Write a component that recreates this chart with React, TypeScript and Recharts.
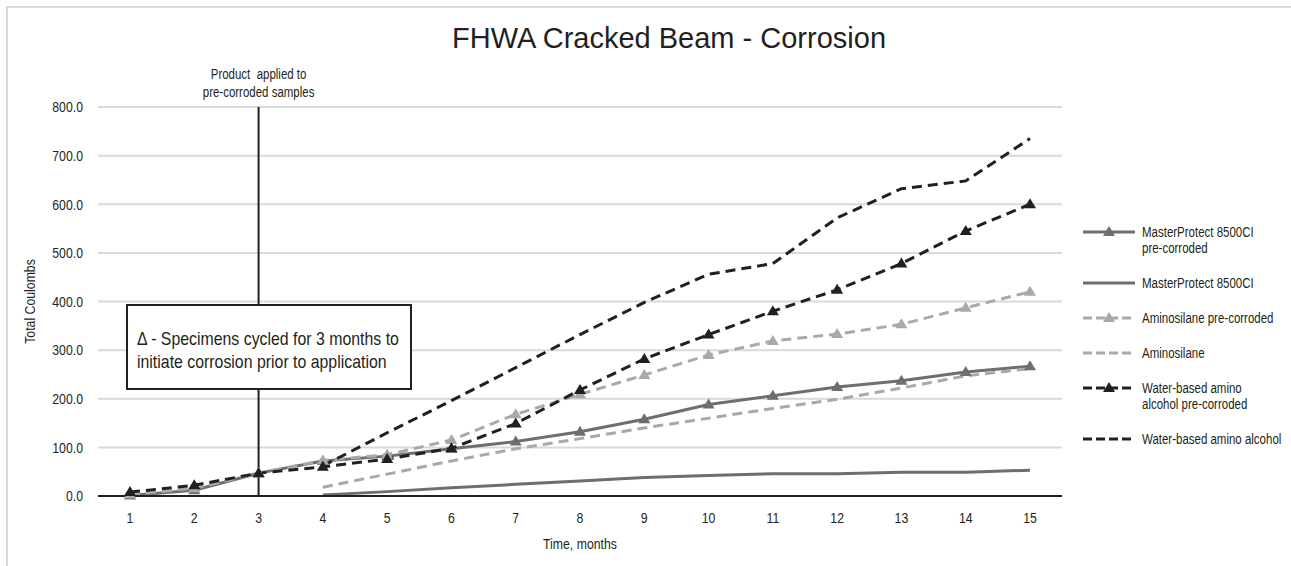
import React from 'react';
import { LineChart, Line, XAxis, YAxis, CartesianGrid, ReferenceLine, Legend } from 'recharts';

// months on the x axis
const months = [1, 2, 3, 4, 5, 6, 7, 8, 9, 10, 11, 12, 13, 14, 15];

// total coulombs per series (null = not measured yet)
const mp8500Pre = [1, 12, 47, 72, 82, 97, 112, 132, 158, 188, 206, 224, 237, 255, 267];
const mp8500 = [null, null, null, 2, 9, 17, 24, 31, 38, 42, 46, 46, 49, 49, 53];
const aminoPre = [3, 16, 47, 73, 85, 115, 168, 209, 249, 290, 319, 333, 353, 387, 420];
const amino = [null, null, null, 18, 45, 72, 97, 118, 140, 160, 180, 199, 222, 247, 262];
const waterPre = [8, 22, 47, 60, 76, 98, 149, 218, 282, 332, 380, 424, 478, 545, 600];
const water = [null, null, null, 62, 130, 196, 264, 332, 398, 456, 478, 572, 632, 648, 735];

const yTicks = [0, 100, 200, 300, 400, 500, 600, 700, 800];

// no condensed font installed, so squeeze a regular sans horizontally
const SANS = '"Liberation Sans", Arial, sans-serif';
const SQUEEZE = 0.82;
const INK = '#231f20';
const DARK_GRAY = '#6d6e71';
const LIGHT_GRAY = '#a7a9ac';

const data = months.map((m, i) => ({
  month: m,
  mp8500Pre: mp8500Pre[i],
  mp8500: mp8500[i],
  aminoPre: aminoPre[i],
  amino: amino[i],
  waterPre: waterPre[i],
  water: water[i],
}));

const series = [
  { key: 'mp8500Pre', name: 'MasterProtect 8500CI pre-corroded', lines: ['MasterProtect 8500CI', 'pre-corroded'], color: DARK_GRAY, dash: undefined, marker: true },
  { key: 'mp8500', name: 'MasterProtect 8500CI', lines: ['MasterProtect 8500CI'], color: DARK_GRAY, dash: undefined, marker: false },
  { key: 'aminoPre', name: 'Aminosilane pre-corroded', lines: ['Aminosilane pre-corroded'], color: LIGHT_GRAY, dash: '10 6', marker: true },
  { key: 'amino', name: 'Aminosilane', lines: ['Aminosilane'], color: LIGHT_GRAY, dash: '10 6', marker: false },
  { key: 'waterPre', name: 'Water-based amino alcohol pre-corroded', lines: ['Water-based amino', 'alcohol pre-corroded'], color: INK, dash: '10 6', marker: true },
  { key: 'water', name: 'Water-based amino alcohol', lines: ['Water-based amino alcohol'], color: INK, dash: '10 6', marker: false },
];

const triangle = (color: string) => (props: any) => {
  const { cx, cy, index } = props;
  if (cx == null || cy == null || props.value == null) return <g key={index} />;
  return <path key={index} d={`M${cx},${cy - 6}L${cx + 6},${cy + 4}L${cx - 6},${cy + 4}Z`} fill={color} />;
};

const NarrowText = ({ x, y, anchor, dy, size = 15, children, rotate = 0 }: any) => (
  <g transform={`translate(${x},${y}) rotate(${rotate}) scale(${SQUEEZE},1)`}>
    <text x={0} y={0} dy={dy} textAnchor={anchor} fill={INK} fontFamily={SANS} fontSize={size} style={{ whiteSpace: 'pre' }}>
      {children}
    </text>
  </g>
);

const XTick = (props: any) => (
  <NarrowText x={props.x} y={props.y} anchor="middle" dy="0.71em">
    {props.payload.value}
  </NarrowText>
);

const YTick = (props: any) => (
  <NarrowText x={props.x} y={props.y} anchor="end" dy="0.355em">
    {Number(props.payload.value).toFixed(1)}
  </NarrowText>
);

const xLabel = (props: any) => {
  const vb = props.viewBox;
  return (
    <NarrowText x={vb.x + vb.width / 2} y={549} anchor="middle">
      Time, months
    </NarrowText>
  );
};

const yLabel = (props: any) => {
  const vb = props.viewBox;
  return (
    <NarrowText x={35} y={vb.y + vb.height / 2} anchor="middle" rotate={-90}>
      Total Coulombs
    </NarrowText>
  );
};

const appliedLabel = (props: any) => {
  const x = props.viewBox.x;
  return (
    <g>
      <NarrowText x={x} y={79} anchor="middle" size={14}>Product  applied to</NarrowText>
      <NarrowText x={x} y={97} anchor="middle" size={14}>pre-corroded samples</NarrowText>
    </g>
  );
};

const squeezed: React.CSSProperties = {
  display: 'inline-block',
  transform: `scaleX(${SQUEEZE})`,
  transformOrigin: 'left center',
  whiteSpace: 'pre',
};

const renderLegend = () => (
  <div style={{ fontFamily: SANS, fontSize: 14, color: INK }}>
    {series.map((s) => (
      <div key={s.key} style={{ display: 'flex', alignItems: 'flex-start', marginBottom: 19 }}>
        <svg width={54} height={16} style={{ flex: 'none' }}>
          <line x1={1} y1={8} x2={53} y2={8} stroke={s.color} strokeWidth={3} strokeDasharray={s.dash ? '9 4' : undefined} />
          {s.marker && <path d="M27,2L33,12L21,12Z" fill={s.color} />}
        </svg>
        <div style={{ marginLeft: 6, lineHeight: '16px' }}>
          {s.lines.map((l) => (
            <div key={l}>
              <span style={squeezed}>{l}</span>
            </div>
          ))}
        </div>
      </div>
    ))}
  </div>
);

export default function App() {
  return (
    <div style={{ position: 'absolute', left: 0, top: 0, width: 1291, height: 566, overflow: 'hidden', background: '#fff' }}>
      <div style={{ position: 'absolute', left: 6, top: 6, width: 1400, height: 700, borderTop: '2px solid #d9d9d9', borderLeft: '2px solid #d9d9d9' }} />
      <div style={{ position: 'absolute', left: 0, top: 22, width: 1338, textAlign: 'center', fontFamily: SANS, fontSize: 29, color: INK }}>
        FHWA Cracked Beam - Corrosion
      </div>
      <div style={{ position: 'absolute', left: 0, top: 0 }}>
        <LineChart width={1291} height={566} data={data} margin={{ top: 107, right: 229, bottom: 40, left: 0 }}>
          <CartesianGrid vertical={false} stroke="#d9d9d9" strokeWidth={2} />
          <XAxis
            dataKey="month"
            height={30}
            padding={{ left: 32, right: 32 }}
            axisLine={{ stroke: INK, strokeWidth: 2 }}
            tickLine={false}
            tickSize={0}
            tickMargin={16}
            tick={XTick}
            label={xLabel}
          />
          <YAxis
            width={98}
            domain={[0, 800]}
            ticks={yTicks}
            axisLine={false}
            tickLine={false}
            tickSize={0}
            tickMargin={15}
            tick={YTick}
            label={yLabel}
          />
          <ReferenceLine x={3} stroke={INK} strokeWidth={2} label={appliedLabel} />
          {series.map((s) => (
            <Line
              key={s.key}
              dataKey={s.key}
              name={s.name}
              type="linear"
              stroke={s.color}
              strokeWidth={3}
              strokeDasharray={s.dash}
              dot={s.marker ? triangle(s.color) : false}
              activeDot={false}
              connectNulls={false}
              isAnimationActive={false}
            />
          ))}
          <Legend
            layout="horizontal"
            verticalAlign="middle"
            align="center"
            content={renderLegend}
            wrapperStyle={{ left: 1082, top: 224, width: 209 }}
          />
        </LineChart>
      </div>
      <div
        style={{
          position: 'absolute',
          left: 126,
          top: 304,
          width: 286,
          height: 86,
          boxSizing: 'border-box',
          border: `2px solid ${INK}`,
          background: '#fff',
          padding: '21px 0 0 9px',
          fontFamily: SANS,
          fontSize: 19,
          lineHeight: '23px',
          color: INK,
        }}
      >
        <div><span style={{ ...squeezed, transform: 'scaleX(0.835)' }}>Δ - Specimens cycled for 3 months to</span></div>
        <div><span style={{ ...squeezed, transform: 'scaleX(0.835)' }}>initiate corrosion prior to application</span></div>
      </div>
    </div>
  );
}
